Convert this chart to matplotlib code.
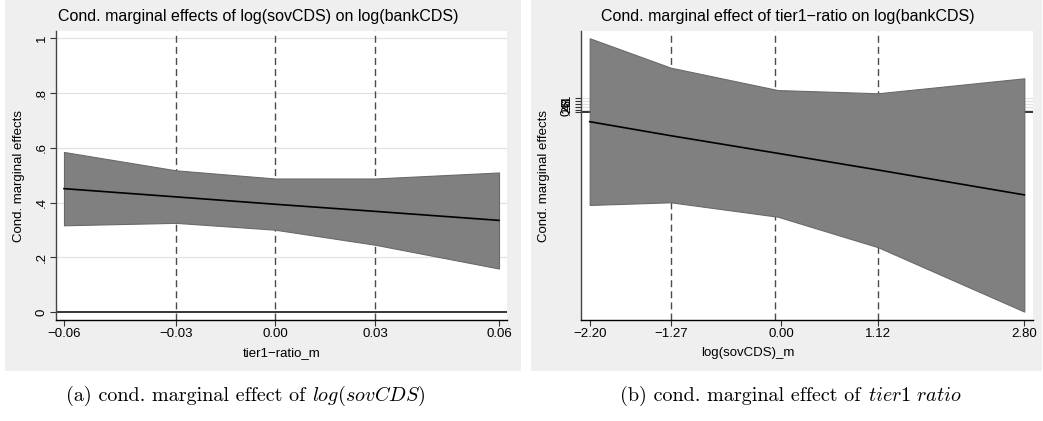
import matplotlib
matplotlib.use("Agg")
import matplotlib.pyplot as plt
from matplotlib.patches import Rectangle

plt.rcParams["font.family"] = ["Liberation Sans", "DejaVu Sans"]
plt.rcParams["axes.unicode_minus"] = True
plt.rcParams["mathtext.fontset"] = "cm"

# 左: log(sovCDS) の条件付き限界効果
a_x = [-0.06, -0.0292, -0.0018, 0.0258, 0.06]
a_mid = [0.451, 0.421, 0.394, 0.368, 0.335]
a_hi = [0.585, 0.518, 0.488, 0.488, 0.510]
a_lo = [0.317, 0.326, 0.301, 0.246, 0.159]
a_xlines = [-0.0292, -0.0018, 0.0258]
a_xticks = [-0.06, -0.0292, -0.0018, 0.0258, 0.06]
a_xticklabels = ["\u22120.06", "\u22120.03", "0.00", "0.03", "0.06"]

# 右: tier1-ratio の条件付き限界効果
b_x = [-2.20, -1.268, -0.036, 1.117, 2.80]
b_mid = [-0.67, -1.67, -2.93, -4.12, -5.90]
b_hi = [5.29, 3.19, 1.59, 1.36, 2.43]
b_lo = [-6.62, -6.43, -7.46, -9.64, -14.24]
b_xlines = [-1.268, -0.07, 1.117]
b_xticks = [-2.20, -1.268, 0.0, 1.117, 2.80]
b_xticklabels = ["\u22122.20", "\u22121.27", "0.00", "1.12", "2.80"]

yticks = [0, 0.2, 0.4, 0.6, 0.8, 1.0]
yticklabels = ["0", ".2", ".4", ".6", ".8", "1"]

W, H = 1043, 421
fig = plt.figure(figsize=(W / 100, H / 100), dpi=100)

def px_rect(x0, y0, x1, y1):
    return [x0 / W, 1 - y1 / H, (x1 - x0) / W, (y1 - y0) / H]

# パネル背景
for x0, x1 in [(5, 521), (531, 1042)]:
    fig.patches.append(Rectangle((x0 / W, 1 - 371 / H), (x1 - x0) / W, 371 / H,
                                 transform=fig.transFigure, facecolor="#efefef",
                                 edgecolor="none", zorder=-5))

def draw_panel(ax, x, mid, hi, lo, xlines, xticks, xticklabels, xlim, ylim,
               title, xlabel, xlabel_pos, title_x):
    ax.set_zorder(2)
    ax.set_facecolor("white")
    for t in yticks[1:]:
        ax.axhline(t, color="#e2e2e2", lw=0.9, zorder=1)
    for xv in xlines:
        ax.axvline(xv, color="#4a4a4a", lw=1.0, dashes=(5, 3), zorder=2)
    ax.axhline(0, color="black", lw=1.1, zorder=2)
    ax.fill_between(x, lo, hi, facecolor="#808080", edgecolor="#6a6a6a", lw=0.8, zorder=3)
    ax.plot(x, mid, color="black", lw=1.2, zorder=4)
    ax.set_xlim(xlim)
    ax.set_ylim(ylim)
    ax.set_xticks(xticks)
    ax.set_xticklabels(xticklabels)
    ax.set_yticks(yticks)
    ax.set_yticklabels(yticklabels, rotation=90, va="center")
    ax.tick_params(axis="both", labelsize=9.5, length=4, width=0.8, color="#333333", pad=2)
    for s in ["top", "right"]:
        ax.spines[s].set_visible(False)
    ax.spines["left"].set_color("#444444")
    ax.spines["left"].set_linewidth(1.0)
    ax.spines["bottom"].set_color("black")
    ax.spines["bottom"].set_linewidth(1.0)
    ax.set_ylabel("Cond. marginal effects", fontsize=9.5)
    ax.yaxis.set_label_coords(-0.068, 0.5)
    ax.set_xlabel(xlabel, fontsize=9.5)
    ax.xaxis.set_label_coords(xlabel_pos, -0.095)
    fig.text(title_x / W, 1 - 17 / H, title, fontsize=11.5, ha="center", va="center")

ax1 = fig.add_axes(px_rect(56, 31, 507, 320))
draw_panel(ax1, a_x, a_mid, a_hi, a_lo, a_xlines, a_xticks, a_xticklabels,
           (-0.0622, 0.0622), (-0.029, 1.027),
           "Cond. marginal effects of log(sovCDS) on log(bankCDS)", "tier1\u2212ratio_m", 0.5, 258)

ax2 = fig.add_axes(px_rect(581, 31, 1033, 320))
draw_panel(ax2, b_x, b_mid, b_hi, b_lo, b_xlines, b_xticks, b_xticklabels,
           (-2.30, 2.90), (-14.84, 5.81),
           "Cond. marginal effect of tier1\u2212ratio on log(bankCDS)", "log(sovCDS)_m", 0.37, 788)

# キャプション (ローマン + イタリック)
fig.canvas.draw()
renderer = fig.canvas.get_renderer()
for cx, roman, ital in [(246, "(a) cond. marginal effect of ", r"$\mathit{log(sovCDS)}$"),
                        (791, "(b) cond. marginal effect of ", r"$\mathit{tier1\ ratio}$")]:
    t1 = fig.text(0, 0, roman, family="cmr10", fontsize=14.5)
    t2 = fig.text(0, 0, ital, fontsize=14.5)
    w1 = t1.get_window_extent(renderer).width
    w2 = t2.get_window_extent(renderer).width
    x0 = cx - (w1 + w2) / 2
    yb = 1 - 401 / H
    t1.set_position((x0 / W, yb))
    t2.set_position(((x0 + w1) / W, yb))

fig.savefig("out.png", dpi=100)
